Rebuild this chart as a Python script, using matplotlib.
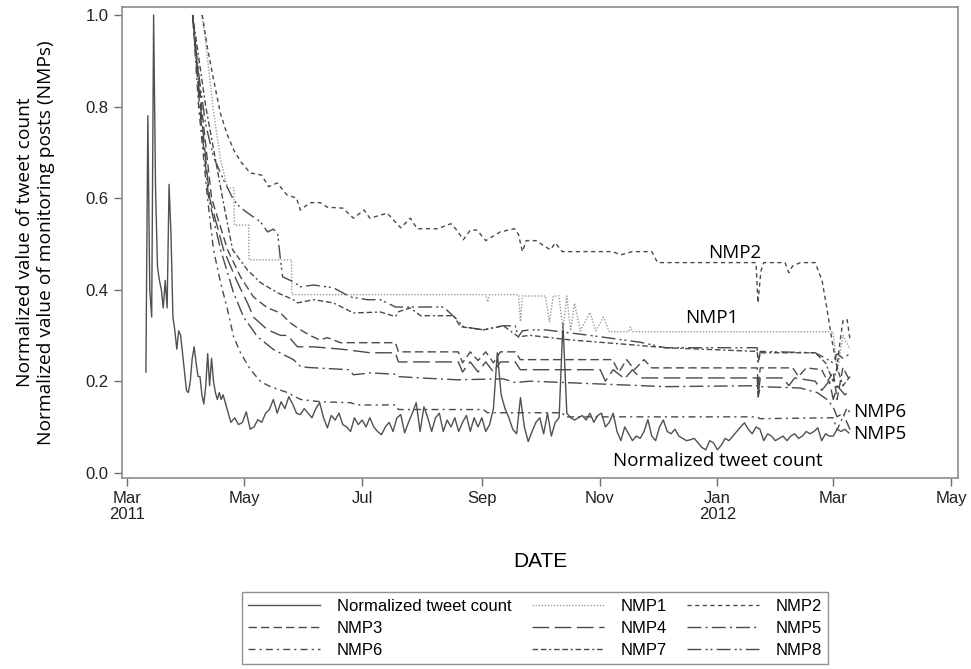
import matplotlib.pyplot as plt
import pandas as pd

base = pd.Timestamp('2011-03-01')

# normalized tweet count, daily from 2011-03-11 to 2011-04-20
tweet_early = [0.22, 0.78, 0.40, 0.34, 1.00, 0.62, 0.45, 0.42, 0.40, 0.36,
               0.42, 0.36, 0.63, 0.52, 0.34, 0.31, 0.27, 0.31, 0.30, 0.26,
               0.22, 0.18, 0.175, 0.20, 0.25, 0.275, 0.24, 0.21, 0.21, 0.17,
               0.15, 0.19, 0.26, 0.19, 0.25, 0.20, 0.175, 0.16, 0.175, 0.16, 0.17]
# then every second day from 2011-04-22 to 2012-03-10
tweet_late = [0.14, 0.11, 0.12, 0.105, 0.11, 0.133, 0.095, 0.10, 0.116, 0.11,
              0.13, 0.138, 0.16, 0.13, 0.155, 0.14, 0.166, 0.15, 0.13, 0.127,
              0.14, 0.13, 0.12, 0.14, 0.153, 0.12, 0.098, 0.125, 0.115, 0.13,
              0.105, 0.10, 0.09, 0.12, 0.105, 0.115, 0.10, 0.12, 0.10, 0.09,
              0.083, 0.10, 0.11, 0.09, 0.12, 0.127, 0.087, 0.11, 0.13, 0.153,
              0.09, 0.144, 0.12, 0.09, 0.12, 0.13, 0.09, 0.115, 0.10, 0.12,
              0.09, 0.11, 0.125, 0.09, 0.12, 0.10, 0.12, 0.09, 0.105, 0.14,
              0.262, 0.17, 0.14, 0.12, 0.095, 0.085, 0.164, 0.10, 0.068, 0.09,
              0.11, 0.12, 0.085, 0.13, 0.08, 0.11, 0.12, 0.327, 0.13, 0.12,
              0.115, 0.12, 0.125, 0.115, 0.13, 0.11, 0.125, 0.13, 0.10, 0.11,
              0.13, 0.09, 0.07, 0.10, 0.085, 0.07, 0.08, 0.075, 0.09, 0.116,
              0.08, 0.07, 0.10, 0.115, 0.09, 0.085, 0.095, 0.08, 0.075, 0.07,
              0.072, 0.075, 0.065, 0.055, 0.05, 0.07, 0.065, 0.05, 0.06, 0.075,
              0.07, 0.08, 0.09, 0.10, 0.109, 0.095, 0.085, 0.10, 0.095, 0.07,
              0.085, 0.08, 0.07, 0.075, 0.08, 0.07, 0.08, 0.085, 0.075, 0.08,
              0.09, 0.085, 0.09, 0.098, 0.07, 0.085, 0.08, 0.08, 0.095, 0.09,
              0.095, 0.087]

# monitoring posts: days since 2011-03-01 and normalized value
nmp1_days = [38.8, 40.4, 42.4, 45.0, 48.7, 52.3, 55.6, 55.8, 63.2, 63.4,
             85.4, 85.6, 186, 187, 188, 203, 204, 205, 216.9, 219,
             221, 224, 226, 228, 230, 232, 235, 240, 243, 247,
             250, 260, 261, 262, 365.9, 368, 371, 374.7]
nmp1_vals = [1.0, 0.96, 0.886, 0.79, 0.683, 0.622, 0.622, 0.541, 0.541, 0.465,
             0.465, 0.389, 0.389, 0.373, 0.389, 0.389, 0.33, 0.386, 0.386, 0.33,
             0.386, 0.386, 0.31, 0.386, 0.31, 0.37, 0.31, 0.35, 0.31, 0.34,
             0.308, 0.308, 0.318, 0.308, 0.308, 0.22, 0.30, 0.27]

nmp2_days = [39.2, 41.8, 45, 48.6, 52, 55.5, 59, 64, 70, 73.5,
             78, 83, 88, 90, 95, 100.4, 104, 112, 117.5, 123,
             126, 135, 142, 147, 150.5, 161, 168, 171, 174.4, 178,
             181.5, 186, 193.5, 201, 203, 205, 207, 212, 219.5, 222,
             225.7, 251.6, 256, 262, 272, 275, 326, 327, 328.5, 330,
             341, 343, 345, 349, 356.6, 360.2, 362.8, 365.9, 368, 369.6,
             371.1, 373.2, 374.7]
nmp2_vals = [1.0, 0.93, 0.86, 0.785, 0.74, 0.705, 0.68, 0.655, 0.65, 0.625,
             0.633, 0.607, 0.60, 0.574, 0.59, 0.59, 0.58, 0.578, 0.556, 0.574,
             0.556, 0.567, 0.535, 0.556, 0.533, 0.533, 0.544, 0.53, 0.509, 0.53,
             0.53, 0.507, 0.526, 0.533, 0.52, 0.483, 0.507, 0.507, 0.487, 0.502,
             0.483, 0.483, 0.476, 0.483, 0.483, 0.459, 0.459, 0.371, 0.44, 0.459,
             0.459, 0.437, 0.452, 0.459, 0.459, 0.42, 0.356, 0.275, 0.232, 0.29,
             0.334, 0.334, 0.29]

nmp3_days = [34.2, 38.8, 44, 52.3, 59, 65.7, 73, 79.7, 84.9, 90.1,
             95, 100, 104, 110.8, 139.2, 140.8, 171.8, 174, 178, 182,
             186, 190, 193.6, 201.3, 203.9, 251.6, 255, 259, 263, 268,
             272, 326.6, 327.1, 328.2, 345, 348, 352, 360, 363, 366,
             368, 371, 374.7]
nmp3_vals = [1.0, 0.80, 0.60, 0.487, 0.428, 0.384, 0.36, 0.349, 0.327, 0.312,
             0.30, 0.29, 0.295, 0.284, 0.284, 0.264, 0.264, 0.24, 0.264, 0.245,
             0.264, 0.24, 0.264, 0.264, 0.247, 0.247, 0.22, 0.247, 0.225, 0.247,
             0.229, 0.229, 0.19, 0.229, 0.229, 0.21, 0.229, 0.225, 0.20, 0.22,
             0.16, 0.23, 0.20]

nmp4_days = [34.2, 38.3, 43, 50.2, 57.5, 62.6, 65.7, 73, 79.7, 83.3,
             88.5, 96.8, 110.8, 126.3, 139.2, 140.8, 171.8, 174, 178, 182,
             186, 190, 193.6, 201.3, 203.9, 245.3, 248, 252, 258, 262,
             266, 326.6, 327.1, 328.2, 340, 343, 346, 356.6, 360, 364,
             366, 368, 372, 374.7]
nmp4_vals = [1.0, 0.80, 0.60, 0.487, 0.415, 0.371, 0.34, 0.312, 0.30, 0.30,
             0.275, 0.275, 0.27, 0.262, 0.262, 0.242, 0.242, 0.22, 0.242, 0.22,
             0.242, 0.22, 0.242, 0.242, 0.225, 0.225, 0.20, 0.225, 0.205, 0.225,
             0.207, 0.207, 0.17, 0.207, 0.207, 0.19, 0.207, 0.20, 0.18, 0.20,
             0.16, 0.19, 0.17, 0.18]

nmp5_days = [34.2, 37.8, 42.5, 48.7, 55.4, 60.6, 67.8, 76.1, 86.4, 90.1,
             93.7, 115, 117.5, 126.3, 139.2, 140.8, 152.2, 171.3, 195.1, 201.3,
             209.1, 279, 326.6, 327.1, 328.2, 348.9, 357.7, 362.8, 365.9, 368,
             371, 374.7]
nmp5_vals = [1.0, 0.80, 0.60, 0.487, 0.393, 0.34, 0.297, 0.269, 0.247, 0.232,
             0.23, 0.225, 0.214, 0.218, 0.215, 0.21, 0.207, 0.203, 0.205, 0.197,
             0.20, 0.188, 0.19, 0.165, 0.188, 0.185, 0.175, 0.16, 0.144, 0.122,
             0.13, 0.094]

nmp6_days = [34.2, 37.3, 41.9, 45, 48.7, 52.3, 55.4, 59, 64.2, 69.4,
             74.5, 83.3, 90.1, 100.4, 115.9, 119.6, 139.2, 140.8, 184.8, 186.9,
             225.7, 227, 326.6, 328, 365.9, 368, 373.2, 374.7]
nmp6_vals = [1.0, 0.80, 0.60, 0.487, 0.415, 0.356, 0.297, 0.262, 0.225, 0.199,
             0.188, 0.175, 0.16, 0.155, 0.153, 0.148, 0.148, 0.138, 0.138, 0.131,
             0.131, 0.122, 0.122, 0.118, 0.12, 0.094, 0.142, 0.13]

nmp7_days = [34.2, 41, 49.7, 54.9, 62.6, 69.4, 78.2, 86.4, 88.5, 96.8,
             107.1, 117.5, 131.5, 139.2, 141, 147, 152.2, 169.3, 172.9, 184.8,
             195.1, 202.9, 209.1, 230, 260, 279, 326.6, 327.1, 328.2, 356.6,
             362, 365.9, 368, 371, 374.7]
nmp7_vals = [1.0, 0.80, 0.60, 0.487, 0.443, 0.415, 0.393, 0.378, 0.371, 0.378,
             0.371, 0.349, 0.351, 0.341, 0.352, 0.36, 0.343, 0.343, 0.319, 0.312,
             0.321, 0.297, 0.30, 0.29, 0.28, 0.273, 0.265, 0.24, 0.262, 0.262,
             0.24, 0.20, 0.23, 0.19, 0.21]

nmp8_days = [34.2, 36, 38.3, 41, 45, 50.2, 55.4, 59, 64.2, 69.4,
             73, 76, 78.2, 79.7, 80.8, 86.4, 90.1, 96.8, 107.1, 115.9,
             124.7, 131.5, 139.2, 164.1, 171.3, 174.4, 184.8, 195.1, 201.3, 202.9,
             205, 209.1, 216.9, 240, 266, 279, 326.6, 327.1, 328.2, 356.6,
             362, 365.9, 368, 371, 374.7]
nmp8_vals = [1.0, 0.92, 0.84, 0.76, 0.69, 0.64, 0.596, 0.579, 0.563, 0.548,
             0.526, 0.532, 0.524, 0.465, 0.428, 0.417, 0.406, 0.41, 0.404, 0.384,
             0.378, 0.378, 0.362, 0.362, 0.334, 0.319, 0.312, 0.321, 0.321, 0.297,
             0.31, 0.312, 0.312, 0.30, 0.285, 0.273, 0.273, 0.24, 0.265, 0.262,
             0.25, 0.24, 0.26, 0.25, 0.26]

x_ticks = ['2011-03-01', '2011-05-01', '2011-07-01', '2011-09-01', '2011-11-01',
           '2012-01-01', '2012-03-01', '2012-05-01']
x_labels = ['Mar\n2011', 'May', 'Jul', 'Sep', 'Nov', 'Jan\n2012', 'Mar', 'May']


def to_dates(days):
    return base + pd.to_timedelta(days, unit='D')


tweet_dates = list(pd.date_range('2011-03-11', periods=len(tweet_early), freq='D')) + \
    list(pd.date_range('2011-04-22', periods=len(tweet_late), freq='2D'))
tweet_vals = tweet_early + tweet_late

fig = plt.figure(figsize=(9.71, 6.69), dpi=100)
ax = fig.add_axes([0.1256, 0.2855, 0.8610, 0.7036])

lc = '#4a4a4a'
h_tw, = ax.plot(tweet_dates, tweet_vals, color='#505050', lw=1.0, label='Normalized tweet count')
h1, = ax.plot(to_dates(nmp1_days), nmp1_vals, color='#9a9a9a', lw=1.0, linestyle=(0, (1, 1.2)), label='NMP1')
h2, = ax.plot(to_dates(nmp2_days), nmp2_vals, color=lc, lw=1.0, linestyle=(0, (3, 2.5)), label='NMP2')
h3, = ax.plot(to_dates(nmp3_days), nmp3_vals, color=lc, lw=1.0, linestyle=(0, (6, 3)), label='NMP3')
h4, = ax.plot(to_dates(nmp4_days), nmp4_vals, color=lc, lw=1.0, linestyle=(0, (12, 4)), label='NMP4')
h5, = ax.plot(to_dates(nmp5_days), nmp5_vals, color=lc, lw=1.0, linestyle=(0, (10, 3, 1.5, 3)), label='NMP5')
h6, = ax.plot(to_dates(nmp6_days), nmp6_vals, color=lc, lw=1.0, linestyle=(0, (5, 3, 1.5, 3)), label='NMP6')
h7, = ax.plot(to_dates(nmp7_days), nmp7_vals, color=lc, lw=1.0, linestyle=(0, (4, 2, 4, 2, 1.5, 2)), label='NMP7')
h8, = ax.plot(to_dates(nmp8_days), nmp8_vals, color=lc, lw=1.0, linestyle=(0, (10, 3, 1.5, 2, 1.5, 3)), label='NMP8')

# curve labels
lab_font = dict(family='Open Sans', fontsize=13.5, color='black')
ax.text(to_dates(315.2), 0.48, 'NMP2', ha='center', va='center', **lab_font)
ax.text(to_dates(303.3), 0.338, 'NMP1', ha='center', va='center', **lab_font)
ax.text(to_dates(376.5), 0.133, 'NMP6', ha='left', va='center', **lab_font)
ax.text(to_dates(376.5), 0.085, 'NMP5', ha='left', va='center', **lab_font)
ax.text(to_dates(306.4), 0.026, 'Normalized tweet count', ha='center', va='center', **lab_font)

ax.set_xlim(base - pd.Timedelta(days=2.4), base + pd.Timedelta(days=430.6))
ax.set_ylim(-0.0116, 1.0168)
ax.set_xticks(pd.to_datetime(x_ticks))
ax.set_xticklabels(x_labels, linespacing=1.05)
ax.set_yticks([0.0, 0.2, 0.4, 0.6, 0.8, 1.0])
ax.set_yticklabels(['0.0', '0.2', '0.4', '0.6', '0.8', '1.0'])

for s in ax.spines.values():
    s.set_color('#8c8c8c')
    s.set_linewidth(1.2)
ax.tick_params(axis='both', direction='out', length=6, width=1, color='#6e6e6e',
               labelsize=12, labelcolor='#222222')
for t in ax.get_xticklabels() + ax.get_yticklabels():
    t.set_family('Liberation Sans')

ax.set_xlabel('DATE', family='Liberation Sans', fontsize=15, labelpad=22)
ax.set_ylabel('Normalized value of tweet count\nNormalized value of monitoring posts (NMPs)',
              family='Open Sans', fontsize=13.8, labelpad=22, linespacing=1.2)

# legend is filled column by column, so order handles to read row-wise
order = [h_tw, h3, h6, h1, h4, h7, h2, h5, h8]
leg = fig.legend(handles=order, labels=[h.get_label() for h in order],
                 loc='upper left', bbox_to_anchor=(0.249, 0.0015, 0.604, 0.1135), mode='expand',
                 ncol=3, frameon=True, fancybox=False, handlelength=4.3,
                 prop={'family': 'Liberation Sans', 'size': 12}, borderaxespad=0,
                 labelspacing=0.42, columnspacing=1.0, handletextpad=1.0)
leg.get_frame().set_edgecolor('#777777')
leg.get_frame().set_linewidth(1.0)

fig.savefig('out.png', dpi=100)
